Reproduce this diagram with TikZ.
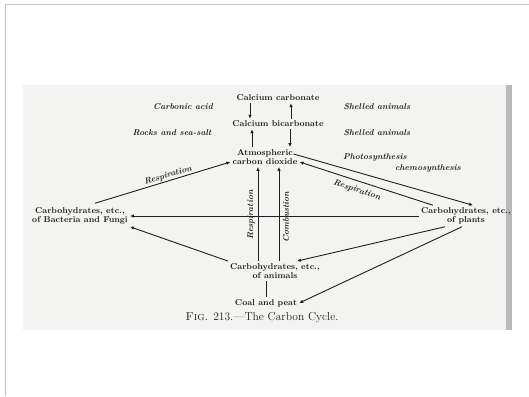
\documentclass[tikz,border=0pt]{standalone}
\usepackage{tikz}
\usetikzlibrary{arrows.meta, positioning}
\definecolor{scanbg}{HTML}{F3F3F1}
\definecolor{ink}{HTML}{1E1E1E}

\begin{document}
\begin{tikzpicture}[
    x=1pt, y=-1pt,
    compound/.style={text=ink, font=\fontsize{8.5}{9.5}\selectfont\bfseries, align=center, inner sep=2pt},
    process/.style={text=ink, font=\fontsize{8.5}{9.5}\selectfont\bfseries\itshape, inner sep=1pt},
    flow/.style={draw=ink, line width=0.9pt, -{Latex[length=4pt, width=3.5pt]}},
    link/.style={draw=ink, line width=0.9pt}
]

% Page and scanned sheet
\useasboundingbox (0,0) rectangle (529,396);
\fill[white] (0,0) rectangle (529,396);
\draw[gray!45, line width=1pt] (5,396) -- (5,5) -- (529,5);
\fill[scanbg] (23,85) rectangle (506,330);
\fill[gray!55] (506,85) rectangle (512,330);

% Carbon compounds
\node[compound] (carb)    at (278,98)  {Calcium carbonate};
\node[compound] (bicarb)  at (278,124) {Calcium bicarbonate};
\node[compound] (atmo)    at (265,157) {Atmospheric\\carbon dioxide};
\node[compound] (bact)    at (80,216)  {Carbohydrates, etc.,\\of Bacteria and Fungi};
\node[compound] (plants)  at (466,216) {Carbohydrates, etc.,\\of plants};
\node[compound] (animals) at (275,271) {Carbohydrates, etc.,\\of animals};
\node[compound] (coal)    at (266,303) {Coal and peat};
\node[text=ink, font=\fontsize{11.5}{12}\selectfont] (caption) at (262,318) {\textsc{Fig.} 213.---The Carbon Cycle.};

% Side labels
\node[process] (acid)   at (183,107) {Carbonic acid};
\node[process] (shell1) at (377,107) {Shelled animals};
\node[process] (rocks)  at (172,133) {Rocks and sea-salt};
\node[process] (shell2) at (377,133) {Shelled animals};
\node[process] (photo)  at (375,157) {Photosynthesis};
\node[process] (chemo)  at (428,168) {chemosynthesis};

% Calcium exchange
\draw[flow] ([xshift=-28pt]carb.south) -- ([xshift=-28pt]carb.south |- bicarb.north);
\draw[flow] ([xshift=13pt]carb.south |- bicarb.north) -- ([xshift=13pt]carb.south);
\draw[flow] ([xshift=-13pt]atmo.north) -- ([xshift=-13pt]atmo.north |- bicarb.south);
\draw[flow] ([xshift=25pt]atmo.north |- bicarb.south) -- ([xshift=25pt]atmo.north);

% Atmosphere and living things
\draw[flow] ([xshift=15pt, yshift=2pt]bact.north) -- ([yshift=-5pt]atmo.west)
    node[process, pos=0.55, above, sloped] (respL) {Respiration};
\draw[flow] ([xshift=-6pt, yshift=3pt]atmo.east) -- ([xshift=7pt]plants.north);
\draw[flow] ([xshift=-33pt]plants.north) -- ([yshift=-5pt]atmo.east)
    node[process, pos=0.55, below=4pt, sloped] (respR) {Respiration};
\draw[flow] ([xshift=-17pt]animals.north) -- ([xshift=-17pt]animals.north |- atmo.south);
\draw[flow] ([xshift=4pt]animals.north) -- ([xshift=4pt]animals.north |- atmo.south);
\node[process, rotate=90] (respM) at (251,215) {Respiration};
\node[process, rotate=90] (comb)  at (286,217) {Combustion};

% Decay and food
\draw[flow] (plants.west) -- (bact.east);
\draw[flow] (animals.north west) -- (bact.south east);
\draw[flow] ([xshift=26pt]plants.south west) -- ([xshift=-25pt]animals.north east);
\draw[flow] ([xshift=-4pt]plants.south) -- (coal.east);
\draw[link] (coal.north |- animals.south) -- (coal.north);

\end{tikzpicture}
\end{document}
